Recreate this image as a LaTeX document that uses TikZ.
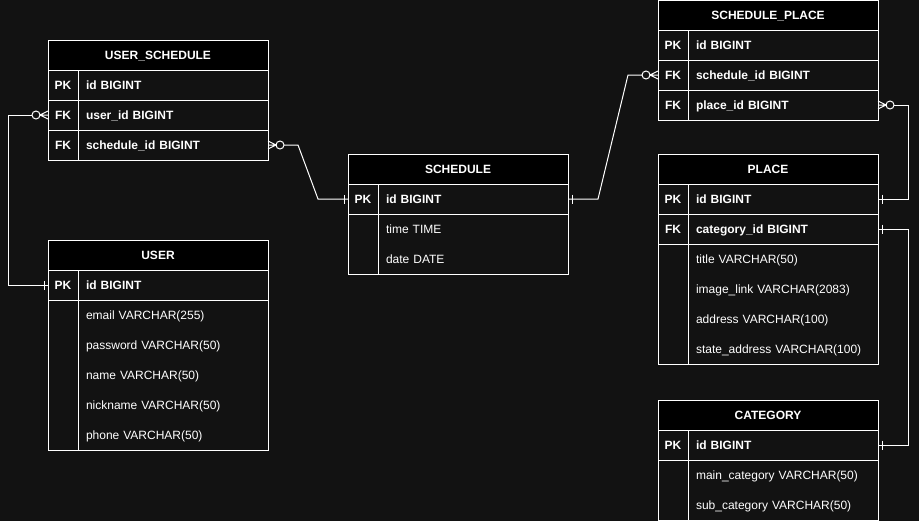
\documentclass[tikz,border=0pt]{standalone}
\usepackage{fontspec}
\setmainfont{Liberation Sans}
\usetikzlibrary{positioning,calc}
\definecolor{canvas}{HTML}{121212}
\tikzset{
    erline/.style={draw=white, line width=0.75pt},
    tablehead/.style={draw=white, line width=0.75pt, fill=black, text=white, font=\fontsize{9}{11}\selectfont\bfseries, minimum width=165pt, minimum height=22.5pt, inner sep=0pt, outer sep=0pt, text height=6.5pt, text depth=0pt},
    keycell/.style={draw=white, line width=0.75pt, text=white, font=\fontsize{9}{11}\selectfont\bfseries, minimum width=22.5pt, minimum height=22.5pt, inner sep=0pt, outer sep=0pt, text height=6.5pt, text depth=0pt},
    fieldcell/.style={keycell, minimum width=142.5pt, text width=130.5pt, inner xsep=6pt, align=left},
    fieldtext/.style={fieldcell, draw=none, font=\fontsize{9}{11}\selectfont},
    zeromany/.pic={\draw[erline] (0,-4) -- (8,0) -- (0,4) (0,0) -- (8,0) (12,0) circle[radius=4];},
    onebar/.pic={\draw[erline] (4,-4.5) -- (4,4.5);}
}

\begin{document}
\begin{tikzpicture}[x=0.75pt, y=-0.75pt]
    \fill[canvas] (0,0) rectangle (919,521);
    \useasboundingbox (0,0) rectangle (919,521);

    % USER_SCHEDULE
    \node[tablehead] (us) at (158,55) {USER\_SCHEDULE};
    \node[keycell, below right=0pt and 0pt of us.south west] (usk1) {PK};
    \node[fieldcell, right=0pt of usk1] (usf1) {id BIGINT};
    \node[keycell, below=0pt of usk1] (usk2) {FK};
    \node[fieldcell, right=0pt of usk2] (usf2) {user\_id BIGINT};
    \node[keycell, below=0pt of usk2] (usk3) {FK};
    \node[fieldcell, right=0pt of usk3] (usf3) {schedule\_id BIGINT};

    % USER
    \node[tablehead] (u) at (158,255) {USER};
    \node[keycell, below right=0pt and 0pt of u.south west] (uk1) {PK};
    \node[fieldcell, right=0pt of uk1] (uf1) {id BIGINT};
    \node[keycell, minimum height=112.5pt, below=0pt of uk1] (uk2) {};
    \node[fieldtext, below=0pt of uf1] (uf2) {email VARCHAR(255)};
    \node[fieldtext, below=0pt of uf2] (uf3) {password VARCHAR(50)};
    \node[fieldtext, below=0pt of uf3] (uf4) {name VARCHAR(50)};
    \node[fieldtext, below=0pt of uf4] (uf5) {nickname VARCHAR(50)};
    \node[fieldtext, below=0pt of uf5] (uf6) {phone VARCHAR(50)};
    \draw[erline] (uk2.north west) rectangle (uf6.south east);

    % SCHEDULE
    \node[tablehead] (s) at (458,169) {SCHEDULE};
    \node[keycell, below right=0pt and 0pt of s.south west] (sk1) {PK};
    \node[fieldcell, right=0pt of sk1] (sf1) {id BIGINT};
    \node[keycell, minimum height=45pt, below=0pt of sk1] (sk2) {};
    \node[fieldtext, below=0pt of sf1] (sf2) {time TIME};
    \node[fieldtext, below=0pt of sf2] (sf3) {date DATE};
    \draw[erline] (sk2.north west) rectangle (sf3.south east);

    % SCHEDULE_PLACE
    \node[tablehead] (sp) at (768,15) {SCHEDULE\_PLACE};
    \node[keycell, below right=0pt and 0pt of sp.south west] (spk1) {PK};
    \node[fieldcell, right=0pt of spk1] (spf1) {id BIGINT};
    \node[keycell, below=0pt of spk1] (spk2) {FK};
    \node[fieldcell, right=0pt of spk2] (spf2) {schedule\_id BIGINT};
    \node[keycell, below=0pt of spk2] (spk3) {FK};
    \node[fieldcell, right=0pt of spk3] (spf3) {place\_id BIGINT};

    % PLACE
    \node[tablehead] (p) at (768,169) {PLACE};
    \node[keycell, below right=0pt and 0pt of p.south west] (pk1) {PK};
    \node[fieldcell, right=0pt of pk1] (pf1) {id BIGINT};
    \node[keycell, below=0pt of pk1] (pk2) {FK};
    \node[fieldcell, right=0pt of pk2] (pf2) {category\_id BIGINT};
    \node[keycell, minimum height=90pt, below=0pt of pk2] (pk3) {};
    \node[fieldtext, below=0pt of pf2] (pf3) {title VARCHAR(50)};
    \node[fieldtext, below=0pt of pf3] (pf4) {image\_link VARCHAR(2083)};
    \node[fieldtext, below=0pt of pf4] (pf5) {address VARCHAR(100)};
    \node[fieldtext, below=0pt of pf5] (pf6) {state\_address VARCHAR(100)};
    \draw[erline] (pk3.north west) rectangle (pf6.south east);

    % CATEGORY
    \node[tablehead] (c) at (768,415) {CATEGORY};
    \node[keycell, below right=0pt and 0pt of c.south west] (ck1) {PK};
    \node[fieldcell, right=0pt of ck1] (cf1) {id BIGINT};
    \node[keycell, minimum height=45pt, below=0pt of ck1] (ck2) {};
    \node[fieldtext, below=0pt of cf1] (cf2) {main\_category VARCHAR(50)};
    \node[fieldtext, below=0pt of cf2] (cf3) {sub\_category VARCHAR(50)};
    \draw[erline] (ck2.north west) rectangle (cf3.south east);

    % relations
    \draw[erline, shorten <=12pt] (usk2.west) -- ++(-40,0) |- (uk1.west);
    \draw[erline, shorten <=12pt] (usf3.east) -- ++(30,0) -- ($(sk1.west)+(-30,0)$) -- (sk1.west);
    \draw[erline, shorten >=12pt] (sf1.east) -- ++(30,0) -- ($(spk2.west)+(-30,0)$) -- (spk2.west);
    \draw[erline, shorten <=12pt] (spf3.east) -- ++(30,0) |- (pf1.east);
    \draw[erline] (pf2.east) -- ++(30,0) |- (cf1.east);

    \pic[rotate=180] at (usk2.west) {zeromany};
    \pic[rotate=180] at (uk1.west) {onebar};
    \pic at (usf3.east) {zeromany};
    \pic[rotate=180] at (sk1.west) {onebar};
    \pic at (sf1.east) {onebar};
    \pic[rotate=180] at (spk2.west) {zeromany};
    \pic at (spf3.east) {zeromany};
    \pic at (pf1.east) {onebar};
    \pic at (pf2.east) {onebar};
    \pic at (cf1.east) {onebar};
\end{tikzpicture}
\end{document}
